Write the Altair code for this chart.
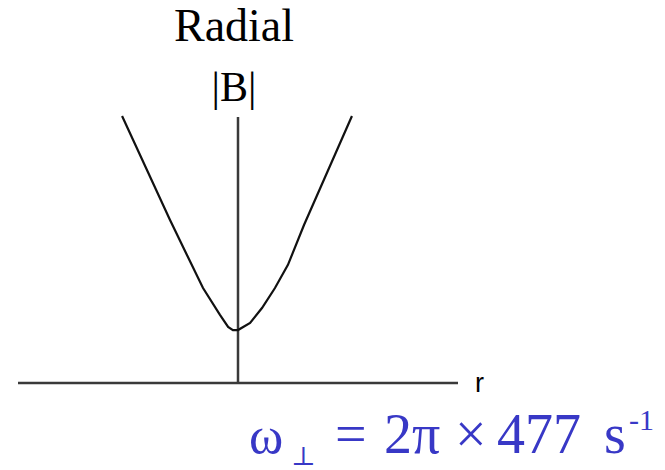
import altair as alt
import pandas as pd

# Radial field magnitude |B| against r (arbitrary units), trap centre at r = 0
r_vals = [-0.527, -0.309, -0.232, -0.159, -0.082, -0.045, -0.023, 0.0,
          0.055, 0.109, 0.168, 0.227, 0.300, 0.518]
b_vals = [1.004, 0.613, 0.481, 0.357, 0.256, 0.211, 0.199, 0.199,
          0.226, 0.282, 0.357, 0.444, 0.594, 1.004]

# Axis extents
r_axis = [-1.0, 1.0]
b_axis = [0.0, 1.0]

curve = pd.DataFrame({"r": r_vals, "B": b_vals})
h_axis = pd.DataFrame({"r": [r_axis[0]], "r2": [r_axis[1]], "B": [0.0]})
v_axis = pd.DataFrame({"r": [0.0], "B": [b_axis[0]], "B2": [b_axis[1]]})

xs = alt.Scale(domain=r_axis, range=[18, 458])
ys = alt.Scale(domain=b_axis, range=[383, 117])

axis_color = "#3a3a3a"
blue = "#3838c6"

h_rule = alt.Chart(h_axis).mark_rule(color=axis_color, strokeWidth=2.5).encode(
    x=alt.X("r:Q", scale=xs, axis=None),
    x2="r2:Q",
    y=alt.Y("B:Q", scale=ys, axis=None),
)
v_rule = alt.Chart(v_axis).mark_rule(color=axis_color, strokeWidth=2.5).encode(
    x=alt.X("r:Q", scale=xs, axis=None),
    y=alt.Y("B:Q", scale=ys, axis=None),
    y2="B2:Q",
)
line = alt.Chart(curve).mark_line(color="#111111", strokeWidth=2.2).encode(
    x=alt.X("r:Q", scale=xs, axis=None),
    y=alt.Y("B:Q", scale=ys, axis=None),
    order="r:Q",
)


def label(text, x, y, size, color="black", font="Liberation Serif", align="left"):
    return alt.Chart(pd.DataFrame({"t": [text]})).mark_text(
        font=font, fontSize=size, color=color, align=align, baseline="alphabetic"
    ).encode(text="t:N", x=alt.value(x), y=alt.value(y))


texts = [
    label("Radial", 234, 41, 46, align="center"),
    label("|B|", 234, 101, 42, align="center"),
    label("r", 475, 392, 27, font="Liberation Sans"),
    label("ω", 249, 453, 52, color=blue),
    label("⊥", 291, 465, 26, color=blue, font="DejaVu Serif"),
    label("=", 335, 453, 56, color=blue),
    label("2π", 384, 453, 56, color=blue),
    label("×", 455, 453, 56, color=blue),
    label("477", 497, 453, 56, color=blue),
    label("s", 604, 453, 56, color=blue),
    label("-1", 629, 430, 30, color=blue),
]

chart = alt.layer(h_rule, v_rule, line, *texts).properties(
    width=665,
    height=470,
    padding=0,
    autosize=alt.AutoSizeParams(type="none"),
    background="white",
).configure_view(stroke=None)

chart.save("out.html", embed_options={"renderer": "svg", "actions": False})
